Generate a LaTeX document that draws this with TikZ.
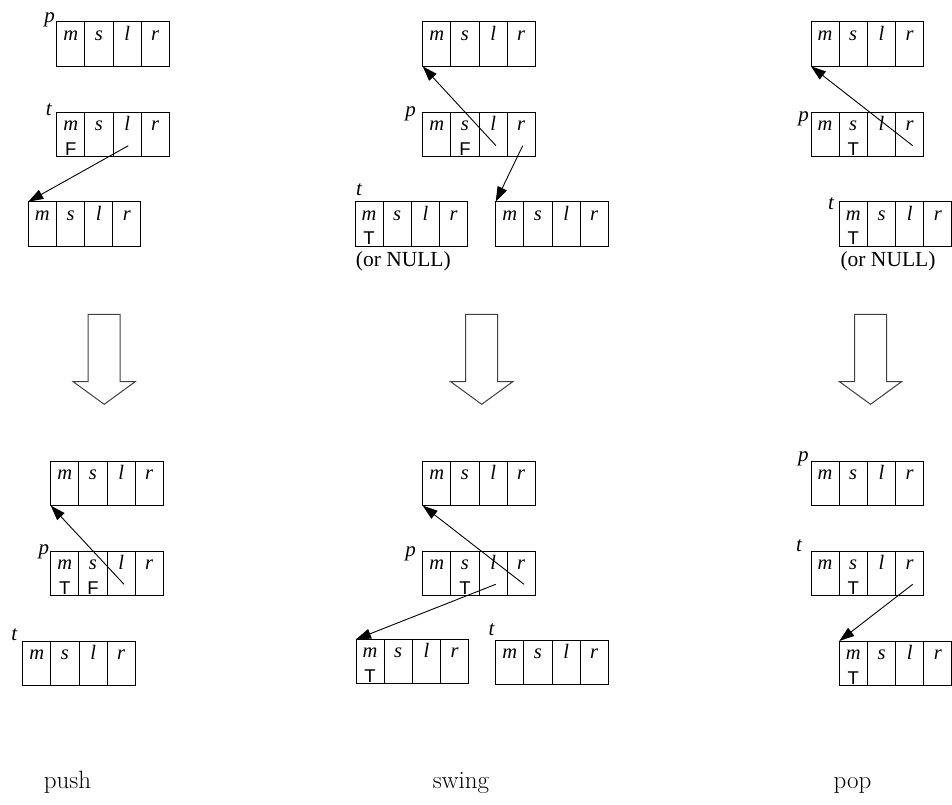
\documentclass[tikz,border=0pt]{standalone}
\usepackage{fontspec}
\newfontfamily\cellfont{Liberation Serif}
\newfontfamily\flagfont{Liberation Sans}
\usetikzlibrary{calc,arrows.meta}
\tikzset{
  rec/.style={draw, line width=1pt, anchor=north west, minimum width=112.6pt, minimum height=44.6pt, inner sep=0pt, outer sep=0pt},
  cell/.style={line width=1pt},
  lbl/.style={anchor=base, inner sep=0pt, font=\cellfont\itshape\fontsize{20.5}{24}\selectfont},
  flag/.style={anchor=base, inner sep=0pt, font=\flagfont\fontsize{18.5}{22}\selectfont},
  var/.style={inner sep=0pt, font=\cellfont\itshape\fontsize{21}{24}\selectfont},
  note/.style={inner sep=0pt, font=\cellfont\fontsize{21.5}{25}\selectfont},
  title/.style={anchor=base, inner sep=0pt, font=\fontsize{25}{30}\selectfont},
  ptr/.style={line width=0.9pt, -{Triangle[length=15pt,width=10pt]}},
  blockarrow/.style={draw=black!75, line width=1pt, line join=miter}
}
\newcommand\recnode[5]{%
  \node[rec] (#1) at (#2,#3) {};
  \foreach \i in {1,2,3} \draw[cell] ($(#1.north west)+(\i*28.15,0)$) -- ++(0,44.6);
  \node[lbl] (#1-m) at ($(#1.north west)+(14.07,18.5)$) {m};
  \node[lbl] (#1-s) at ($(#1.north west)+(42.2,18.5)$) {s};
  \node[lbl] (#1-l) at ($(#1.north west)+(70.4,18.5)$) {l};
  \node[lbl] (#1-r) at ($(#1.north west)+(98.5,18.5)$) {r};
  \node[flag] (#1-mf) at ($(#1.north west)+(14.07,43)$) {#4};
  \node[flag] (#1-sf) at ($(#1.north west)+(42.2,43)$) {#5};
}
\newcommand\blockdown[1]{%
  \draw[blockarrow] (#1-16,314.3) -- (#1-16,381.7) -- (#1-31,381.7) -- (#1,404.3)
     -- (#1+31,381.7) -- (#1+16,381.7) -- (#1+16,314.3) -- cycle;
}
\begin{document}
\begin{tikzpicture}[x=1pt,y=-1pt]
\useasboundingbox (0,0) rectangle (952,804);
% ---------- push, before
\recnode{A1}{56.7}{21.7}{}{}
\recnode{A2}{56.7}{112}{F}{}
\recnode{A3}{28.3}{201.7}{}{}
\node[var] (A1p) at (49.5,20) {p};
\node[var] (A2t) at (48.8,109.7) {t};
\coordinate (a2l) at ($(A2.north west)+(71.6,33.7)$);
\draw[ptr] (a2l) -- (A3.north west);
% ---------- swing, before
\recnode{B1}{422.7}{21.7}{}{}
\recnode{B2}{422.7}{112}{}{F}
\recnode{B3}{355}{201.7}{T}{}
\recnode{B4}{495.7}{201.7}{}{}
\node[var] (B2p) at (410.5,113.3) {p};
\node[var] (B3t) at (359,189.5) {t};
\node[note] (B3n) at (403.3,261) {(or NULL)};
\coordinate (b2l) at ($(B2.north west)+(73.3,33.7)$);
\coordinate (b2r) at ($(B2.north west)+(100,33.7)$);
\draw[ptr] (b2l) -- (B1.south west);
\draw[ptr] (b2r) -- (B4.north west);
% ---------- pop, before
\recnode{C1}{811}{21.7}{}{}
\recnode{C2}{811}{112}{}{T}
\recnode{C3}{839.3}{201.7}{T}{}
\node[var] (C2p) at (803.7,119) {p};
\node[var] (C3t) at (831,203.7) {t};
\node[note] (C3n) at (888,261) {(or NULL)};
\coordinate (c2r) at ($(C2.north west)+(101.7,33.7)$);
\draw[ptr] (c2r) -- (C1.south west);
% ---------- block arrows
\blockdown{104.2}
\blockdown{481.7}
\blockdown{870.5}
% ---------- push, after
\recnode{D1}{50.7}{461}{}{}
\recnode{D2}{50.7}{551}{T}{F}
\recnode{D3}{22.7}{641}{}{}
\node[var] (D2p) at (43.8,552) {p};
\node[var] (D3t) at (14.2,635) {t};
\coordinate (d2l) at ($(D2.north west)+(73.3,33.3)$);
\draw[ptr] (d2l) -- (D1.south west);
% ---------- swing, after
\recnode{E1}{422.7}{461}{}{}
\recnode{E2}{422.7}{551}{}{T}
\recnode{E3}{356}{639.3}{T}{}
\recnode{E4}{495.7}{640}{}{}
\node[var] (E2p) at (410.5,553.3) {p};
\node[var] (E4t) at (491.5,629.5) {t};
\coordinate (e2l) at ($(E2.north west)+(73,33.3)$);
\coordinate (e2r) at ($(E2.north west)+(101.3,33.3)$);
\draw[ptr] (e2r) -- (E1.south west);
\draw[ptr] (e2l) -- (E3.north west);
% ---------- pop, after
\recnode{F1}{811}{461}{}{}
\recnode{F2}{811}{551}{}{T}
\recnode{F3}{839.3}{641}{T}{}
\node[var] (F1p) at (803.3,459.2) {p};
\node[var] (F2t) at (799,545.8) {t};
\coordinate (f2r) at ($(F2.north west)+(101.7,33.3)$);
\draw[ptr] (f2r) -- (F3.north west);
% ---------- titles
\node[title] (tpush) at (67.5,788) {push};
\node[title] (tswing) at (461,788) {swing};
\node[title] (tpop) at (852.5,788) {pop};
\end{tikzpicture}
\end{document}
